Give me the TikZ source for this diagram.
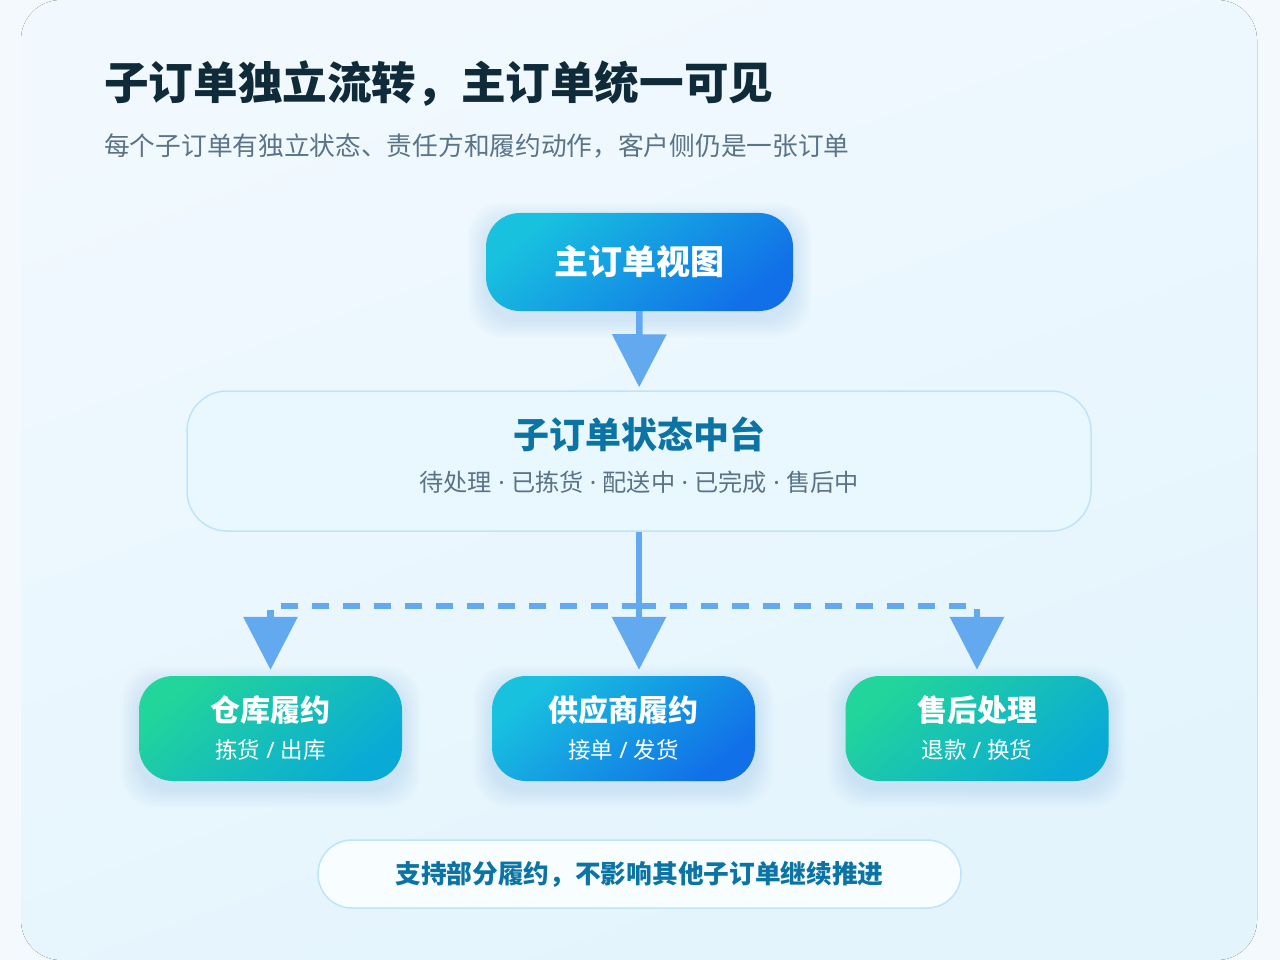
\documentclass[tikz,border=0pt]{standalone}
\usepackage{fontspec}
\setmainfont{Noto Sans CJK SC}
\newfontfamily\latinsans{Noto Sans}
\usetikzlibrary{arrows.meta,positioning}

\definecolor{pagebg}{HTML}{F4F9FE}
\definecolor{paneltop}{HTML}{F1F9FE}
\definecolor{panelbot}{HTML}{E3F4FD}
\definecolor{ink}{HTML}{0F2A38}
\definecolor{muted}{HTML}{5A7387}
\definecolor{deepteal}{HTML}{0B74A4}
\definecolor{flow}{HTML}{62A9F0}
\definecolor{cyanA}{HTML}{18C2DF}
\definecolor{blueB}{HTML}{1170E8}
\definecolor{greenA}{HTML}{22D59A}
\definecolor{greenB}{HTML}{0AAAD6}
\definecolor{hubfill}{HTML}{E9F8FE}
\definecolor{hubline}{HTML}{BFE4F9}
\definecolor{glowblue}{HTML}{8CC4F2}

\pgfdeclarelayer{bg}
\pgfsetlayers{bg,main}

% soft blue glow under a node
\newcommand\nodeglow[2]{%
  \foreach \g in {2,4,...,18}{%
    \fill[glowblue, opacity=0.03, rounded corners=#2]
      ([xshift=-\g, yshift=-\g-8]#1.south west) rectangle ([xshift=\g, yshift=\g-8]#1.north east);
  }%
}
\newcommand\middot{{\latinsans\ ·\ }}
\newcommand\slashsep{{\latinsans\ /\ }}

\begin{document}
\begin{tikzpicture}[
  x=1pt, y=-1pt,
  arr/.style={draw=flow, line width=6.5pt, -{Triangle[width=53pt,length=53pt]}, shorten >=4pt},
  dasharr/.style={arr, dash pattern=on 17pt off 14pt},
  bluegrad/.style={top color=cyanA, bottom color=blueB, shading angle=40},
  greengrad/.style={top color=greenA, bottom color=greenB, shading angle=40},
  mainbox/.style={bluegrad, rounded corners=34pt, minimum width=307pt, minimum height=98pt,
    text=white, font=\bfseries\fontsize{34}{40}\selectfont},
  hubbox/.style={draw=hubline, line width=1.5pt, fill=hubfill, rounded corners=40pt,
    minimum width=904pt, minimum height=140pt},
  leaf/.style={rounded corners=34pt, minimum width=263pt, minimum height=105pt},
  leaftitle/.style={text=white, font=\bfseries\fontsize{30}{36}\selectfont},
  leafsub/.style={text=white, font=\fontsize{22.5}{26}\selectfont},
  note/.style={draw=hubline, line width=1.5pt, fill=white!70!hubfill, rounded corners=34pt,
    minimum width=643pt, minimum height=68pt, text=deepteal,
    font=\bfseries\fontsize{25.7}{30}\selectfont}
]
\useasboundingbox (0,0) rectangle (1280,960);

% heading
\node[anchor=west, inner sep=0pt, text=ink, font=\bfseries\fontsize{44.6}{52}\selectfont]
  (title) at (104,84) {子订单独立流转，主订单统一可见};
\node[anchor=west, inner sep=0pt, text=muted, font=\fontsize{25.7}{32}\selectfont]
  (subtitle) at (104,146) {每个子订单有独立状态、责任方和履约动作，客户侧仍是一张订单};

% nodes
\node[mainbox] (master) at (639.5,262) {主订单视图};
\node[hubbox] (hub) at (639,461) {};
\node[text=deepteal, font=\bfseries\fontsize{36}{42}\selectfont] (hubtitle)
  at ([yshift=27]hub.center) {子订单状态中台};
\node[text=muted, font=\fontsize{24.2}{28}\selectfont] (hubsub)
  at ([yshift=-21]hub.center) {待处理\middot 已拣货\middot 配送中\middot 已完成\middot 售后中};

\node[leaf, greengrad] (wh) at (270.5,728.5) {};
\node[leaftitle] (whtitle) at ([yshift=18]wh.center) {仓库履约};
\node[leafsub] (whsub) at ([yshift=-21.5]wh.center) {拣货\slashsep 出库};

\node[leaf, bluegrad] (sup) at (623.5,728.5) {};
\node[leaftitle] (suptitle) at ([yshift=18]sup.center) {供应商履约};
\node[leafsub] (supsub) at ([yshift=-21.5]sup.center) {接单\slashsep 发货};

\node[leaf, greengrad] (after) at (977,728.5) {};
\node[leaftitle] (aftertitle) at ([yshift=18]after.center) {售后处理};
\node[leafsub] (aftersub) at ([yshift=-21.5]after.center) {退款\slashsep 换货};

\node[note] (partial) at (639.5,874) {支持部分履约，不影响其他子订单继续推进};

% connectors
\coordinate (bus) at (639,606);
\draw[arr, shorten >=3pt] (master) -- (hub);
\draw[arr, shorten >=6pt] (hub.south) -- (hub.south |- sup.north);
\draw[dasharr, shorten >=6pt] (bus) -| (wh.north);
\draw[dasharr, shorten >=6pt] (bus) -| (after.north);

\begin{pgfonlayer}{bg}
  \fill[pagebg] (0,0) rectangle (1280,960);
  \fill[top color=paneltop, bottom color=panelbot, shading angle=20, rounded corners=40pt]
    (21,0) rectangle (1257,960);
  \nodeglow{master}{34pt}
  \nodeglow{wh}{34pt}
  \nodeglow{sup}{34pt}
  \nodeglow{after}{34pt}
\end{pgfonlayer}
\end{tikzpicture}
\end{document}
